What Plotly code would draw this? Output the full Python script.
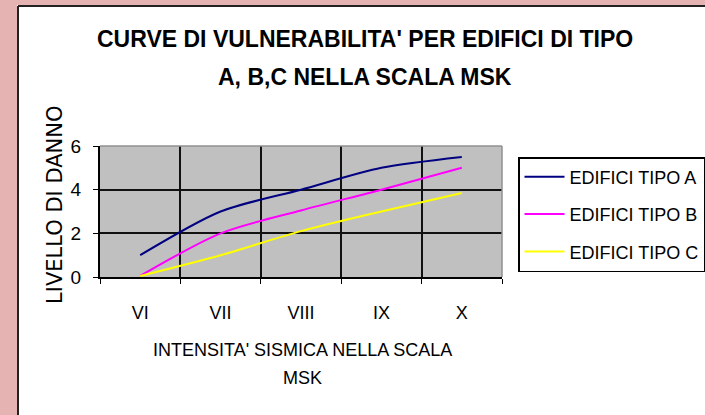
import plotly.graph_objects as go

categories = ["VI", "VII", "VIII", "IX", "X"]
tipo_a = [1.0, 3.0, 4.0, 5.0, 5.5]
tipo_b = [0.05, 2.0, 3.05, 4.0, 5.0]
tipo_c = [0.05, 1.0, 2.1, 3.0, 3.85]
series_names = ["EDIFICI TIPO A", "EDIFICI TIPO B", "EDIFICI TIPO C"]
series_colors = ["#000080", "#FF00FF", "#FFFF00"]
y_ticks = [0, 2, 4, 6]

W, H = 705, 415
L, R, T, B = 100, 502, 146, 277


def px(x):
    return (x - L) / (R - L)


def py(y):
    return (B - y) / (B - T)


fig = go.Figure()
for i, (name, vals, col) in enumerate(zip(series_names, [tipo_a, tipo_b, tipo_c], series_colors)):
    fig.add_trace(go.Scatter(
        x=categories, y=vals, name=name, mode="lines",
        line=dict(color=col, width=2, shape="spline", smoothing=0.8),
        legendgroup=f"g{i}",
    ))

font_main = "Liberation Sans, Arial, sans-serif"

shapes = [
    # pink outer frame
    dict(type="rect", xref="paper", yref="paper", x0=px(-5), x1=px(17), y0=py(-5), y1=py(420),
         fillcolor="#e6b3b3", line=dict(width=0), layer="above"),
    dict(type="rect", xref="paper", yref="paper", x0=px(-5), x1=px(710), y0=py(-5), y1=py(5),
         fillcolor="#e6b3b3", line=dict(width=0), layer="above"),
    dict(type="line", xref="paper", yref="paper", x0=px(18), x1=px(18), y0=py(6), y1=py(420),
         line=dict(color="#222222", width=2)),
    dict(type="line", xref="paper", yref="paper", x0=px(18), x1=px(710), y0=py(6), y1=py(6),
         line=dict(color="#222222", width=2)),
    # plot area border (top / right)
    dict(type="line", xref="paper", yref="paper", x0=0, x1=1, y0=1, y1=1,
         line=dict(color="#909090", width=1.5)),
    dict(type="line", xref="paper", yref="paper", x0=1, x1=1, y0=0, y1=1,
         line=dict(color="#909090", width=1.5)),
]

annotations = [
    dict(text="CURVE DI VULNERABILITA' PER EDIFICI DI TIPO", xref="paper", yref="paper",
         x=px(365), y=py(39), xanchor="center", yanchor="middle", showarrow=False,
         font=dict(family=font_main, size=23, color="black", weight="bold")),
    dict(text="A, B,C NELLA SCALA MSK", xref="paper", yref="paper",
         x=px(365), y=py(77), xanchor="center", yanchor="middle", showarrow=False,
         font=dict(family=font_main, size=23, color="black", weight="bold")),
    dict(text="LIVELLO DI DANNO", xref="paper", yref="paper",
         x=px(55), y=py(205), xanchor="center", yanchor="middle", showarrow=False,
         textangle=-90, font=dict(family="DejaVu Sans, sans-serif", size=21, color="black")),
    dict(text="INTENSITA' SISMICA NELLA SCALA", xref="paper", yref="paper",
         x=px(302), y=py(350), xanchor="center", yanchor="middle", showarrow=False,
         font=dict(family=font_main, size=18, color="black")),
    dict(text="MSK", xref="paper", yref="paper",
         x=px(302), y=py(378), xanchor="center", yanchor="middle", showarrow=False,
         font=dict(family=font_main, size=18, color="black")),
]

fig.update_layout(
    width=W, height=H,
    margin=dict(l=L, r=W - R, t=T, b=H - B, pad=0, autoexpand=False),
    paper_bgcolor="white",
    plot_bgcolor="#c0c0c0",
    font=dict(family=font_main, size=18, color="black"),
    shapes=shapes,
    annotations=annotations,
    showlegend=True,
    legend=dict(
        x=px(518), y=py(157), xanchor="left", yanchor="top",
        bgcolor="white", bordercolor="black", borderwidth=1.5,
        font=dict(family=font_main, size=18, color="black"),
        traceorder="grouped", tracegroupgap=11, itemwidth=40,
    ),
    xaxis=dict(
        type="category", tickson="boundaries", range=[-0.5, 4.5],
        showgrid=True, gridcolor="#111111", gridwidth=2,
        showline=True, linecolor="black", linewidth=2,
        ticks="outside", ticklen=5, tickcolor="black", tickwidth=1,
        ticklabelstandoff=18, tickfont=dict(size=18),
        zeroline=False, fixedrange=True,
    ),
    yaxis=dict(
        range=[0, 6], tickvals=y_ticks,
        showgrid=True, gridcolor="#111111", gridwidth=2,
        showline=True, linecolor="black", linewidth=2,
        zeroline=True, zerolinecolor="black", zerolinewidth=2,
        ticks="outside", ticklen=5, tickcolor="black", tickwidth=1,
        ticklabelstandoff=8, tickfont=dict(size=19),
        fixedrange=True,
    ),
)

fig.write_html(
    "out.html",
    config={"displayModeBar": False},
    post_script="document.body.style.margin='0';document.body.style.overflow='hidden';",
)
